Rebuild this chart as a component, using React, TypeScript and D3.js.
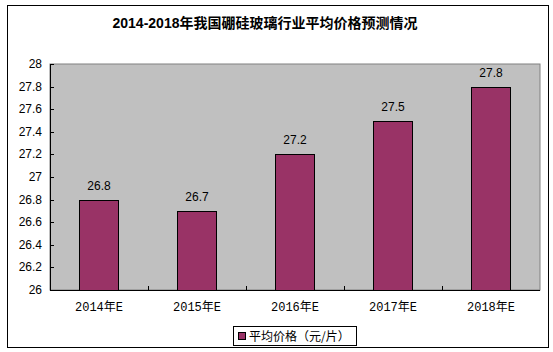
import * as d3 from 'd3';

const categories = ['2014年E', '2015年E', '2016年E', '2017年E', '2018年E'];
const prices = [26.8, 26.7, 27.2, 27.5, 27.8];
const yTicks = [26, 26.2, 26.4, 26.6, 26.8, 27, 27.2, 27.4, 27.6, 27.8, 28];
const title = '2014-2018年我国硼硅玻璃行业平均价格预测情况';
const seriesName = '平均价格（元/片）';

const App = () => {
  const width = 553;
  const height = 352;
  const plot = { left: 50, right: 540, top: 64, bottom: 290 };

  // category bands, bar is ~40% of band
  const x = d3.scaleBand<string>()
    .domain(categories)
    .range([plot.left, plot.right])
    .paddingInner(0.6)
    .paddingOuter(0.3);

  const band = d3.scaleBand<string>()
    .domain(categories)
    .range([plot.left, plot.right]);

  const y = d3.scaleLinear()
    .domain([26, 28])
    .range([plot.bottom, plot.top]);

  const fmt = (v: number) => String(+v.toFixed(1));

  return (
    <svg width={width} height={height} style={{ position: 'absolute', left: 0, top: 0 }}
      fontFamily="Arial, 'Liberation Sans', 'Noto Sans CJK SC', sans-serif">
      <rect x={0} y={0} width={width} height={height} fill="#fff" />
      {/* outer frame */}
      <rect x={7.5} y={5.5} width={541} height={342} fill="none" stroke="#000" />

      <text x={265} y={28} textAnchor="middle" fontSize={14} fontWeight="bold"
        fontFamily="Arial, 'Noto Sans CJK SC', sans-serif">{title}</text>

      {/* plot area */}
      <rect x={plot.left} y={plot.top} width={plot.right - plot.left} height={plot.bottom - plot.top}
        fill="#C0C0C0" stroke="#808080" />

      {/* bars */}
      {categories.map((c, i) => (
        <g key={c}>
          <rect x={Math.round(x(c)!) + 0.5} y={Math.round(y(prices[i])) + 0.5}
            width={Math.round(x.bandwidth())} height={plot.bottom - Math.round(y(prices[i]))}
            fill="#993366" stroke="#000" />
          <text x={x(c)! + x.bandwidth() / 2} y={y(prices[i]) - 10} textAnchor="middle" fontSize={12}>
            {fmt(prices[i])}
          </text>
        </g>
      ))}

      {/* y axis */}
      <line x1={plot.left + 0.5} x2={plot.left + 0.5} y1={plot.top} y2={plot.bottom} stroke="#000" />
      {yTicks.map(t => (
        <g key={t}>
          <line x1={plot.left} x2={plot.left + 4} y1={Math.round(y(t)) + 0.5} y2={Math.round(y(t)) + 0.5} stroke="#000" />
          <text x={42} y={y(t) + 4} textAnchor="end" fontSize={12}>{fmt(t)}</text>
        </g>
      ))}

      {/* x axis */}
      <line x1={plot.left} x2={plot.right} y1={plot.bottom + 0.5} y2={plot.bottom + 0.5} stroke="#000" />
      {categories.map((c, i) => (
        <g key={c}>
          {i > 0 && (
            <line x1={Math.round(band(c)!) + 0.5} x2={Math.round(band(c)!) + 0.5}
              y1={plot.bottom} y2={plot.bottom - 4} stroke="#000" />
          )}
          <text x={band(c)! + band.bandwidth() / 2} y={311} textAnchor="middle" fontSize={12}
            fontFamily="'Liberation Mono', 'Noto Sans CJK SC', monospace">{c}</text>
        </g>
      ))}

      {/* legend */}
      <rect x={233.5} y={326.5} width={123} height={19} fill="#fff" stroke="#000" />
      <rect x={238.5} y={332.5} width={7} height={7} fill="#993366" stroke="#000" />
      <text x={249} y={341} fontSize={12} fontFamily="'Noto Sans CJK SC', sans-serif">{seriesName}</text>
    </svg>
  );
};

export default App;
